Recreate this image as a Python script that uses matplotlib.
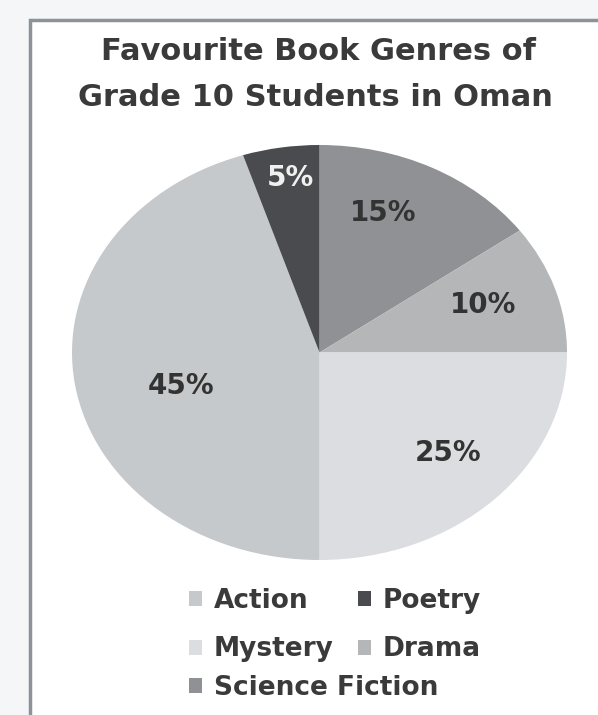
import numpy as np
import matplotlib.pyplot as plt
from matplotlib.patches import Rectangle, Patch

# Data (clockwise from 12 o'clock)
genres = ["Science Fiction", "Drama", "Mystery", "Action", "Poetry"]
shares = [15, 10, 25, 45, 5]
colors = ["#8f9194", "#b4b6b8", "#dcdde0", "#c6c9cb", "#4a4b4e"]
# label placement: radius (fraction of pie) and small angular nudge (deg)
label_radius = [0.72, 0.70, 0.71, 0.58, 0.85]
label_shift = [6, 1, 2, 7, -1]
label_colors = ["#333333", "#333333", "#333333", "#333333", "#f0f0f0"]
legend_grid = ["Action", "Mystery", "Poetry", "Drama"]   # column-wise fill
legend_last = ["Science Fiction"]

W, H = 598, 715
FONT = "DejaVu Sans"
fig = plt.figure(figsize=(W / 100, H / 100), dpi=100)
fig.patch.set_facecolor("#f4f6f7")

# chart frame
fig.patches.append(Rectangle((30 / W, -0.02), 1.0, (H - 20) / H + 0.02, transform=fig.transFigure,
                             facecolor="white", edgecolor="#8c9297", linewidth=2.5, zorder=-5))

fig.text(318 / W, 1 - 52 / H, "Favourite Book Genres of", ha="center", va="center",
         fontsize=22, fontweight="bold", color="#3a3a3a", family=FONT)
fig.text(315 / W, 1 - 98 / H, "Grade 10 Students in Oman", ha="center", va="center",
         fontsize=22, fontweight="bold", color="#3a3a3a", family=FONT)

# elliptical pie (stretched like the original)
ax = fig.add_axes([72 / W, 1 - 560 / H, 495 / W, 415 / H])
ax.set_zorder(2)
wedges, _ = ax.pie(shares, colors=colors, startangle=90, counterclock=False,
                   wedgeprops=dict(linewidth=0))
ax.set_aspect("auto")
ax.set_xlim(-1, 1)
ax.set_ylim(-1, 1)

for w, s, r, d, c in zip(wedges, shares, label_radius, label_shift, label_colors):
    ang = np.deg2rad((w.theta1 + w.theta2) / 2 + d)
    ax.text(r * np.cos(ang), r * np.sin(ang), f"{s}%", ha="center", va="center",
            fontsize=20, fontweight="bold", color=c, family=FONT)

lkw = dict(frameon=False, prop=dict(family=FONT, weight="bold", size=19),
           labelcolor="#3a3a3a", handlelength=0.5, handleheight=0.5, handletextpad=0.45,
           borderpad=0, borderaxespad=0)
h1 = [Patch(facecolor=colors[genres.index(g)], edgecolor="none") for g in legend_grid]
leg1 = fig.legend(h1, legend_grid, loc="upper left", bbox_to_anchor=(189 / W, 1 - 588 / H),
                  ncol=2, columnspacing=0.9, labelspacing=0.85, **lkw)
h2 = [Patch(facecolor=colors[genres.index(g)], edgecolor="none") for g in legend_last]
fig.legend(h2, legend_last, loc="upper left", bbox_to_anchor=(189 / W, 1 - 675 / H), **lkw)

fig.savefig("out.png", dpi=100, facecolor=fig.get_facecolor())
